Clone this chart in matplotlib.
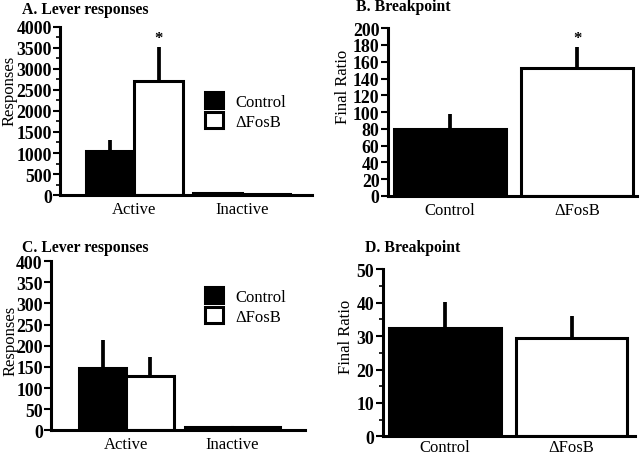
import matplotlib.pyplot as plt
from matplotlib.patches import Patch
from matplotlib.ticker import MultipleLocator

plt.rcParams['font.family'] = ['Liberation Serif', 'DejaVu Serif']

# ---------------- data ---------------- #
groups = ["Control", "\u0394FosB"]
levers = ["Active", "Inactive"]

# A. lever responses (per group: active, inactive)
a_control = [1050, 45]
a_control_err = [270, 15]
a_fosb = [2710, 35]
a_fosb_err = [810, 10]

# B. breakpoint
b_vals = [80, 152]
b_err = [18, 26]

# C. lever responses
c_control = [148, 8]
c_control_err = [66, 3]
c_fosb = [128, 7]
c_fosb_err = [46, 3]

# D. breakpoint
d_vals = [32.5, 29.4]
d_err = [7.7, 6.7]

BLACK = "black"
WHITE = "white"
LW = 2.2


def style_axis(ax, ymax, major, minor=None, xpad=4):
    ax.spines['top'].set_visible(False)
    ax.spines['right'].set_visible(False)
    ax.spines['left'].set_linewidth(LW)
    ax.spines['bottom'].set_linewidth(LW)
    ax.set_ylim(0, ymax)
    ax.yaxis.set_major_locator(MultipleLocator(major))
    if minor:
        ax.yaxis.set_minor_locator(MultipleLocator(minor))
        ax.tick_params(axis='y', which='minor', length=3, width=1.2)
    ax.tick_params(axis='y', which='major', length=5, width=1.5, pad=1)
    ax.tick_params(axis='x', length=0, pad=xpad)
    for lbl in ax.get_yticklabels():
        lbl.set_fontweight('bold')
        lbl.set_fontsize(12.8)
    for lbl in ax.get_xticklabels():
        lbl.set_fontsize(12)


def lever_panel(ax, ctrl, ctrl_err, fosb, fosb_err, ymax, major, minor, star):
    x = [0, 1]
    w = 0.45
    xc = [i - w / 2 for i in x]
    xf = [i + w / 2 for i in x]
    ax.bar(xc, ctrl, w, color=BLACK, edgecolor=BLACK, linewidth=LW, zorder=2)
    ax.bar(xf, fosb, w, color=WHITE, edgecolor=BLACK, linewidth=LW, zorder=2)
    ax.errorbar(xc, ctrl, yerr=[[0, 0], ctrl_err], fmt='none', ecolor=BLACK,
                elinewidth=LW + 0.5, capsize=0, zorder=1)
    ax.errorbar(xf, fosb, yerr=[[0, 0], fosb_err], fmt='none', ecolor=BLACK,
                elinewidth=LW + 0.5, capsize=0, zorder=1)
    if star:
        ax.text(xf[0], fosb[0] + fosb_err[0] + ymax * 0.005, "*", ha='center',
                va='bottom', fontsize=12, fontweight='bold')
    ax.set_xticks(x)
    ax.set_xticklabels(levers)
    ax.set_ylabel("Responses", fontsize=12)
    style_axis(ax, ymax, major, minor)


def breakpoint_panel(ax, vals, err, ymax, major, minor, star, xpad=4):
    x = [0, 1]
    w = 0.88
    ax.bar(x, vals, w, color=[BLACK, WHITE], edgecolor=BLACK, linewidth=LW, zorder=2)
    ax.errorbar(x, vals, yerr=[[0, 0], err], fmt='none', ecolor=BLACK,
                elinewidth=LW + 0.5, capsize=0, zorder=1)
    if star:
        ax.text(x[1], vals[1] + err[1] + ymax * 0.005, "*", ha='center',
                va='bottom', fontsize=12, fontweight='bold')
    ax.set_xticks(x)
    ax.set_xticklabels(groups)
    ax.set_ylabel("Final Ratio", fontsize=12)
    style_axis(ax, ymax, major, minor, xpad)


fig = plt.figure(figsize=(6.4, 4.56), dpi=100)

axA = fig.add_axes([0.094, 0.570, 0.394, 0.369])
axB = fig.add_axes([0.606, 0.568, 0.389, 0.368])
axC = fig.add_axes([0.080, 0.054, 0.397, 0.371])
axD = fig.add_axes([0.598, 0.041, 0.394, 0.366])

lever_panel(axA, a_control, a_control_err, a_fosb, a_fosb_err, 4000, 500, 250, True)
axA.set_xlim(-0.69, 1.656)
axA.yaxis.set_label_coords(-0.171, 0.625)
breakpoint_panel(axB, b_vals, b_err, 200, 20, None, True)
axB.set_xlim(-0.49, 1.47)
axB.yaxis.set_label_coords(-0.149, 0.655)
lever_panel(axC, c_control, c_control_err, c_fosb, c_fosb_err, 400, 50, None, False)
axC.set_xlim(-0.71, 1.69)
axC.yaxis.set_label_coords(-0.128, 0.533)
breakpoint_panel(axD, d_vals, d_err, 50, 10, 5, False, xpad=2)
axD.set_xlim(-0.49, 1.5)
axD.yaxis.set_label_coords(-0.115, 0.6)

# titles
tkw = dict(fontsize=11.3, fontweight='bold', va='center')
fig.text(22 / 640, 1 - 10 / 456, "A. Lever responses", **tkw)
fig.text(356 / 640, 1 - 7 / 456, "B. Breakpoint", **tkw)
fig.text(22 / 640, 1 - 248 / 456, "C. Lever responses", **tkw)
fig.text(365 / 640, 1 - 248 / 456, "D. Breakpoint", **tkw)

# legends
handles = [Patch(facecolor=BLACK, edgecolor=BLACK, linewidth=LW),
           Patch(facecolor=WHITE, edgecolor=BLACK, linewidth=LW)]
for ax, top in [(axA, 1 - 93 / 456), (axC, 1 - 288 / 456)]:
    ax.legend(handles, groups, loc='upper left', bbox_to_anchor=(205 / 640, top),
              bbox_transform=fig.transFigure, frameon=False, fontsize=12,
              handlelength=1.1, handleheight=1.1, handletextpad=0.7,
              borderaxespad=0, borderpad=0, labelspacing=0.15)

fig.savefig("out.png", dpi=100)
